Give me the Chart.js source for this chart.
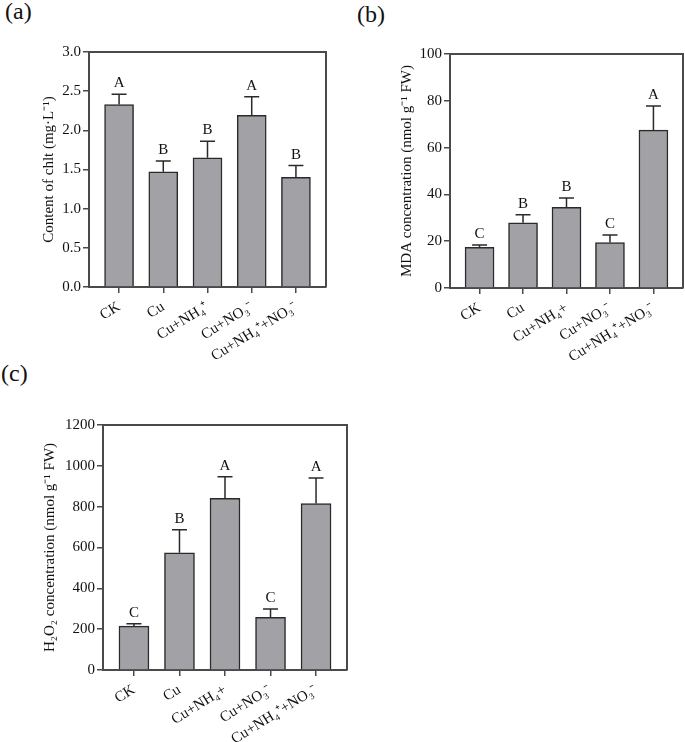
<!DOCTYPE html>
<html>
<head>
<meta charset="utf-8">
<script src="https://cdn.jsdelivr.net/npm/chart.js@4"></script>
<style>
  body { margin: 0; background: #fff; width: 685px; height: 742px; position: relative; overflow: hidden; font-family: 'Liberation Serif', serif; }
  canvas { position: absolute; }
  .tag { position: absolute; font-size: 24px; color: #111; line-height: 1; }
</style>
</head>
<body>
<div class="tag" style="left:5px;top:-1px">(a)</div>
<div class="tag" style="left:357px;top:2px">(b)</div>
<div class="tag" style="left:1px;top:361px">(c)</div>
<canvas id="chartA" width="340" height="370" style="left:0;top:0"></canvas>
<canvas id="chartB" width="345" height="370" style="left:340px;top:0"></canvas>
<canvas id="chartC" width="360" height="372" style="left:0;top:370px"></canvas>
<script>
// treatments
const categoriesA = ['CK', 'Cu', 'Cu+NH₄⁺', 'Cu+NO₃⁻', 'Cu+NH₄⁺+NO₃⁻'];
const categoriesBC = ['CK', 'Cu', 'Cu+NH₄+', 'Cu+NO₃⁻', 'Cu+NH₄⁺+NO₃⁻'];

// (a) chlorophyll, mg/L
const chltMeans = [2.33, 1.47, 1.65, 2.19, 1.40];
const chltUpper = [2.46, 1.61, 1.86, 2.43, 1.55];
const chltLetters = ['A', 'B', 'B', 'A', 'B'];

// (b) MDA, nmol/g FW
const mdaMeans = [17.4, 27.9, 34.5, 19.4, 67.5];
const mdaUpper = [18.4, 31.3, 38.5, 22.6, 77.8];
const mdaLetters = ['C', 'B', 'B', 'C', 'A'];

// (c) H2O2, nmol/g FW
const h2o2Means = [215, 574, 841, 258, 815];
const h2o2Upper = [227, 687, 947, 299, 940];
const h2o2Letters = ['C', 'B', 'A', 'C', 'A'];

const axisColor = '#4a4a4a';
const textColor = '#111';
const serif = 'Liberation Serif';

// up-only error bars, significance letters and the closed frame
function barExtras(means, upper, letters) {
  return {
    id: 'barExtras',
    afterDatasetsDraw(chart) {
      const { ctx, chartArea: a } = chart;
      const x = chart.scales.x, y = chart.scales.y;
      ctx.save();
      ctx.strokeStyle = '#2a2a2a';
      ctx.lineWidth = 1.5;
      ctx.font = '15px "' + serif + '"';
      ctx.fillStyle = textColor;
      ctx.textAlign = 'center';
      ctx.textBaseline = 'alphabetic';
      upper.forEach((u, i) => {
        const px = x.getPixelForValue(i);
        const top = y.getPixelForValue(u);
        const base = y.getPixelForValue(means[i]);
        ctx.beginPath();
        ctx.moveTo(px, base);
        ctx.lineTo(px, top);
        ctx.moveTo(px - 7.5, top);
        ctx.lineTo(px + 7.5, top);
        ctx.stroke();
        ctx.fillText(letters[i], px, top - 7);
      });
      ctx.strokeStyle = axisColor;
      ctx.lineWidth = 2;
      ctx.beginPath();
      ctx.moveTo(a.left, a.top);
      ctx.lineTo(a.right, a.top);
      ctx.lineTo(a.right, a.bottom);
      ctx.stroke();
      ctx.restore();
    }
  };
}

function makeChart(id, cats, means, upper, letters, s) {
  return new Chart(document.getElementById(id), {
    type: 'bar',
    data: {
      datasets: [{
        data: means.map((v, i) => ({ x: i, y: v })),
        backgroundColor: '#a2a2a6',
        borderColor: '#2a2a2a',
        borderWidth: 1.5,
        barThickness: s.barWidth
      }]
    },
    options: {
      responsive: false,
      animation: false,
      devicePixelRatio: 1,
      layout: { padding: { top: s.top, right: s.right, left: 0, bottom: 0 } },
      plugins: { legend: { display: false }, tooltip: { enabled: false } },
      scales: {
        x: {
          type: 'linear',
          min: -0.68,
          max: 4.68,
          offset: false,
          afterBuildTicks(scale) { scale.ticks = cats.map((c, i) => ({ value: i })); },
          afterFit(scale) { scale.height = s.xHeight; },
          ticks: {
            autoSkip: false,
            minRotation: 32,
            maxRotation: 32,
            padding: 5,
            color: textColor,
            font: { family: serif, size: 15 },
            callback: (v) => cats[v]
          },
          grid: { offset: false, drawOnChartArea: false, tickLength: 6, color: axisColor, lineWidth: 1.5 },
          border: { color: axisColor, width: 2 }
        },
        y: {
          min: 0,
          max: s.yMax,
          afterFit(scale) { scale.width = s.yWidth; },
          ticks: {
            stepSize: s.step,
            padding: 2,
            color: textColor,
            font: { family: serif, size: 15 },
            callback: (v) => v.toFixed(s.decimals)
          },
          grid: { drawOnChartArea: false, tickLength: 6, color: axisColor, lineWidth: 1.5 },
          border: { color: axisColor, width: 2 },
          title: {
            display: true,
            text: s.title,
            color: textColor,
            font: { family: serif, size: 15 },
            padding: { top: s.titlePad, bottom: 0 }
          }
        }
      }
    },
    plugins: [barExtras(means, upper, letters)]
  });
}

makeChart('chartA', categoriesA, chltMeans, chltUpper, chltLetters, {
  yMax: 3, step: 0.5, decimals: 1, title: 'Content of chlt (mg·L⁻¹)',
  top: 52, right: 14, yWidth: 89, xHeight: 83, titlePad: 40, barWidth: 29
});

makeChart('chartB', categoriesBC, mdaMeans, mdaUpper, mdaLetters, {
  yMax: 100, step: 20, decimals: 0, title: 'MDA concentration (nmol g⁻¹ FW)',
  top: 54, right: 2, yWidth: 110, xHeight: 82, titlePad: 58, barWidth: 29
});

makeChart('chartC', categoriesBC, h2o2Means, h2o2Upper, h2o2Letters, {
  yMax: 1200, step: 200, decimals: 0, title: 'H₂O₂ concentration (nmol g⁻¹ FW)',
  top: 55, right: 13, yWidth: 103, xHeight: 72, titlePad: 41, barWidth: 30
});
</script>
</body>
</html>
